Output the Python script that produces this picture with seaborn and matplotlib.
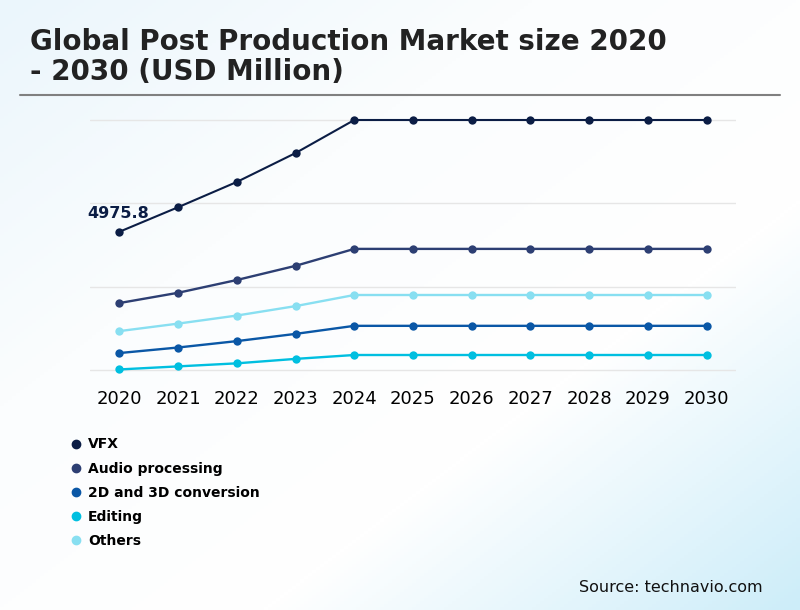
import numpy as np
import pandas as pd
import seaborn as sns
import matplotlib.pyplot as plt
from matplotlib.colors import LinearSegmentedColormap
from matplotlib.lines import Line2D

# dados (USD milhões)
anos = [2020, 2021, 2022, 2023, 2024, 2025, 2026, 2027, 2028, 2029, 2030]
vfx = [4975.8, 5860, 6770, 7810, 9000, 9000, 9000, 9000, 9000, 9000, 9000]
audio = [2410, 2780, 3240, 3750, 4360, 4360, 4360, 4360, 4360, 4360, 4360]
conversao = [610, 810, 1040, 1300, 1590, 1590, 1590, 1590, 1590, 1590, 1590]
edicao = [20, 130, 240, 400, 540, 540, 540, 540, 540, 540, 540]
outros = [1400, 1670, 1960, 2300, 2700, 2700, 2700, 2700, 2700, 2700, 2700]

segmentos = ['VFX', 'Audio processing', '2D and 3D conversion', 'Editing', 'Others']
cores = ['#0b1d45', '#2d3f73', '#0a57a6', '#00bfe0', '#88dff1']

dados = pd.DataFrame({
    'ano': anos * 5,
    'valor': vfx + audio + conversao + edicao + outros,
    'segmento': np.repeat(segmentos, len(anos)),
})

sns.set_theme(style='white')
plt.rcParams['font.family'] = ['DejaVu Sans']

fig = plt.figure(figsize=(8, 6.1), dpi=100)

# fundo com degradê azul claro
bg = fig.add_axes([0, 0, 1, 1], zorder=-10)
xx, yy = np.meshgrid(np.linspace(0, 1, 200), np.linspace(0, 1, 200))
t = (xx + yy) / 2
cmap = LinearSegmentedColormap.from_list('bg', ['#ebf6fc', '#fbfdfe', '#ffffff', '#cdedf9'])
bg.imshow(t, cmap=cmap, aspect='auto', extent=[0, 1, 0, 1], origin='upper')
bg.axis('off')

ax = fig.add_axes([90 / 800, 1 - 380 / 610, 646 / 800, 270 / 610])
ax.patch.set_alpha(0)
sns.lineplot(data=dados, x='ano', y='valor', hue='segmento', hue_order=segmentos,
             palette=cores, marker='o', markersize=6, markeredgewidth=0,
             linewidth=1.7, ax=ax, legend=False)
for linha in ax.lines:
    linha.set_clip_on(False)
ax.lines[0].set_linewidth(1.5)

ax.set_xlim(2019.5, 2030.5)
ax.set_ylim(-360, 9360)
ax.set_yticks([0, 3000, 6000, 9000])
ax.set_yticklabels([])
ax.grid(axis='y', color='#e6e6e6', linewidth=1)
ax.set_xticks(anos)
ax.set_xticklabels([str(a) for a in anos], fontsize=13, color='#000000')
ax.tick_params(axis='x', length=0, pad=7)
ax.tick_params(axis='y', length=0)
ax.set_xlabel('')
ax.set_ylabel('')
sns.despine(ax=ax, left=True, bottom=True)

ax.text(2019.45, vfx[0] + 400, '4975.8', fontsize=11.5, fontweight='bold',
        color='#0b1d45', ha='left', va='bottom')

# título e linha
fig.text(30 / 800, 1 - 57 / 610, 'Global Post Production Market size 2020\n- 2030 (USD Million)',
         fontsize=20, fontweight='bold', color='#222222', ha='left', va='center',
         linespacing=1.07)
fig.add_artist(Line2D([20 / 800, 780 / 800], [1 - 95 / 610, 1 - 95 / 610],
                      color='#808080', linewidth=1.5))

# legenda
handles = [Line2D([], [], marker='o', linestyle='', color=c, markersize=6) for c in cores]
fig.legend(handles, segmentos, loc='upper left', bbox_to_anchor=(50 / 800, 1 - 425 / 610),
           frameon=False, handletextpad=-0.15, labelspacing=0.73,
           prop={'weight': 'bold', 'size': 10}, labelcolor='#000000')

fig.text(763 / 800, 1 - 588 / 610, 'Source: technavio.com', fontsize=11.5,
         color='#111111', ha='right', va='center')

plt.savefig('out.png', dpi=100)
